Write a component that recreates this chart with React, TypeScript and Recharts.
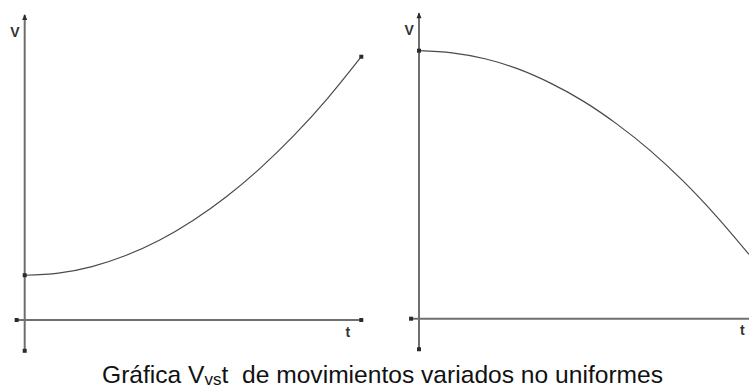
import { Line, LineChart, ReferenceDot, ReferenceLine, XAxis, YAxis } from "recharts";

// time steps shared by both graphs
const times = [0, 1, 2, 3, 4, 5, 6, 7, 8, 9, 10];
// speed growing with time (left) and dropping with time (right)
const speedUp = [1.7, 1.78, 2.03, 2.45, 3.03, 3.78, 4.69, 5.77, 7.01, 8.42, 10.0];
const speedDown = [10.0, 9.92, 9.7, 9.32, 8.78, 8.1, 7.26, 6.28, 5.14, 3.84, 2.4];

const AXIS = "#6f6f6f";
const CURVE = "#4a4a4a";
const DOT = "#2b2b2b";

const square = (props: { cx?: number; cy?: number }) => (
  <rect x={(props.cx ?? 0) - 2} y={(props.cy ?? 0) - 2} width={4} height={4} fill={DOT} />
);

const arrowUp = (props: { cx?: number; cy?: number }) => {
  const cx = props.cx ?? 0;
  const cy = props.cy ?? 0;
  return <path d={`M${cx} ${cy - 1} L${cx - 2.5} ${cy + 5} L${cx + 2.5} ${cy + 5} Z`} fill={DOT} />;
};

const axisText = (text: string) => (props: { cx?: number; cy?: number }) => (
  <text
    x={props.cx}
    y={props.cy}
    textAnchor="middle"
    dominantBaseline="central"
    fontFamily="Liberation Sans, Arial, sans-serif"
    fontWeight="bold"
    fontSize={14}
    fill="#333"
  >
    {text}
  </text>
);

interface PanelProps {
  values: number[];
  left: number;
  width: number;
  margin: { top: number; right: number; bottom: number; left: number };
  axisX: [number, number];
  axisY: [number, number];
  labelV: [number, number];
  labelT: [number, number];
  endDot: boolean;
}

function Panel({ values, left, width, margin, axisX, axisY, labelV, labelT, endDot }: PanelProps) {
  const data = times.map((t, i) => ({ t, v: values[i] }));
  const last = data[data.length - 1];
  return (
    <div style={{ position: "absolute", left, top: 0 }}>
      <LineChart width={width} height={360} data={data} margin={margin}>
        <XAxis type="number" dataKey="t" domain={[0, 10]} hide />
        <YAxis type="number" domain={[0, 10]} hide />
        <ReferenceLine
          segment={[{ x: axisX[0], y: 0 }, { x: axisX[1], y: 0 }]}
          stroke={AXIS}
          strokeWidth={2}
          ifOverflow="visible"
        />
        <ReferenceLine
          segment={[{ x: 0, y: axisY[0] }, { x: 0, y: axisY[1] }]}
          stroke={AXIS}
          strokeWidth={2}
          ifOverflow="visible"
        />
        <Line
          type="monotone"
          dataKey="v"
          stroke={CURVE}
          strokeWidth={1.2}
          dot={false}
          isAnimationActive={false}
        />
        <ReferenceDot x={axisX[0]} y={0} shape={square} ifOverflow="visible" />
        {endDot && <ReferenceDot x={axisX[1]} y={0} shape={square} ifOverflow="visible" />}
        <ReferenceDot x={0} y={axisY[0]} shape={square} ifOverflow="visible" />
        <ReferenceDot x={0} y={axisY[1]} shape={arrowUp} ifOverflow="visible" />
        <ReferenceDot x={0} y={data[0].v} shape={square} ifOverflow="visible" />
        {endDot && <ReferenceDot x={last.t} y={last.v} shape={square} ifOverflow="visible" />}
        <ReferenceDot x={labelV[0]} y={labelV[1]} shape={axisText("V")} ifOverflow="visible" />
        <ReferenceDot x={labelT[0]} y={labelT[1]} shape={axisText("t")} ifOverflow="visible" />
      </LineChart>
    </div>
  );
}

export default function App() {
  return (
    <div style={{ position: "absolute", left: 0, top: 0, width: 749, height: 388, background: "#fff" }}>
      <Panel
        values={speedUp}
        left={0}
        width={375}
        margin={{ top: 56.7, right: 13.7, bottom: 40, left: 24.7 }}
        axisX={[-0.24, 10]}
        axisY={[-1.17, 11.58]}
        labelV={[-0.29, 10.94]}
        labelT={[9.6, -0.45]}
        endDot
      />
      <Panel
        values={speedDown}
        left={400}
        width={349}
        margin={{ top: 50.7, right: 0, bottom: 41.3, left: 19 }}
        axisX={[-0.24, 10]}
        axisY={[-1.14, 11.4]}
        labelV={[-0.3, 10.76]}
        labelT={[9.8, -0.42]}
        endDot={false}
      />
      <svg width={749} height={388} style={{ position: "absolute", left: 0, top: 0, pointerEvents: "none" }}>
        <text
          x={102}
          y={383}
          fontFamily="Liberation Sans, Arial, sans-serif"
          fontSize={24.6}
          fill="#111"
          style={{ whiteSpace: "pre" }}
        >
          Gráfica V
          <tspan fontSize={17} dy={2}>vs</tspan>
          <tspan dy={-2}>{"t  de movimientos variados no uniformes"}</tspan>
        </text>
      </svg>
    </div>
  );
}
